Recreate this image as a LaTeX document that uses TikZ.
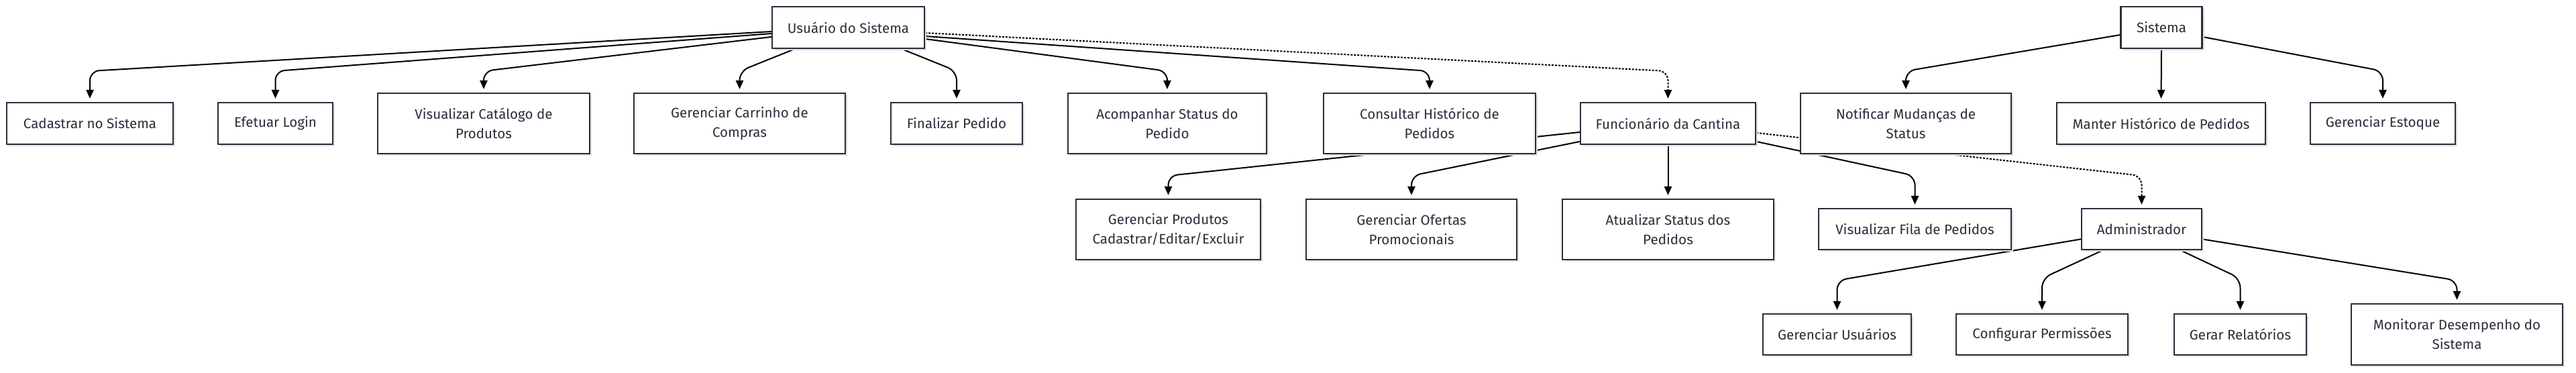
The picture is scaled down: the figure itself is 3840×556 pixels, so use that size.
\documentclass[tikz,border=0pt]{standalone}
\usepackage{fontspec}
\setmainfont{Fira Sans}
\usetikzlibrary{arrows.meta,calc,shadows}
\definecolor{boxline}{RGB}{44,44,62}
\definecolor{txt}{RGB}{45,45,60}
\pgfdeclarelayer{edges}
\pgfsetlayers{edges,main}
\tikzset{
  box/.style={draw=boxline, line width=1.1pt, fill=white, text=txt, align=center,
    inner sep=0pt, font=\fontsize{10.3}{14.5}\selectfont,
    drop shadow={shadow xshift=1.6pt, shadow yshift=-1.6pt, fill=black!13, opacity=1}},
  edge/.style={draw=black, line width=1pt, rounded corners=7pt,
    -{Triangle[length=6.5pt,width=5.6pt]}, shorten >=2.5pt},
  dotedge/.style={edge, dash pattern=on 1.5pt off 1pt}
}
\begin{document}
\begin{tikzpicture}[x=0.5pt,y=-0.5pt]
\useasboundingbox (0,0) rectangle (3840,556);
% top row
\node[box, minimum width=113.5pt, minimum height=31pt] (u) at (1264.5,41) {Usuário do Sistema};
\node[box, minimum width=60.5pt, minimum height=31pt] (sis) at (3222,41) {Sistema};
% second row
\node[box, minimum width=124pt, minimum height=31pt] (cad) at (134,184) {Cadastrar no Sistema};
\node[box, minimum width=85.5pt, minimum height=31pt] (log) at (410.5,184) {Efetuar Login};
\node[box, minimum width=158pt, minimum height=45pt] (cat) at (721,184) {Visualizar Catálogo de\\Produtos};
\node[box, minimum width=157.5pt, minimum height=45pt] (car) at (1102.5,184) {Gerenciar Carrinho de\\Compras};
\node[box, minimum width=98pt, minimum height=31pt] (fin) at (1426,184) {Finalizar Pedido};
\node[box, minimum width=148pt, minimum height=45pt] (aco) at (1740,184) {Acompanhar Status do\\Pedido};
\node[box, minimum width=158pt, minimum height=45pt] (con) at (2131,184) {Consultar Histórico de\\Pedidos};
\node[box, minimum width=130.5pt, minimum height=31pt] (fun) at (2486.5,184) {Funcionário da Cantina};
\node[box, minimum width=157pt, minimum height=45pt] (noti) at (2841,184) {Notificar Mudanças de\\Status};
\node[box, minimum width=155.5pt, minimum height=31pt] (man) at (3221.5,184) {Manter Histórico de Pedidos};
\node[box, minimum width=108pt, minimum height=31pt] (est) at (3552,184) {Gerenciar Estoque};
% third row
\node[box, minimum width=137.5pt, minimum height=45pt] (prod) at (1741.5,342) {Gerenciar Produtos\\Cadastrar/Editar/Excluir};
\node[box, minimum width=157pt, minimum height=45pt] (ofe) at (2104,342) {Gerenciar Ofertas\\Promocionais};
\node[box, minimum width=157.5pt, minimum height=45pt] (atu) at (2486.5,342) {Atualizar Status dos\\Pedidos};
\node[box, minimum width=143.5pt, minimum height=30.5pt] (fila) at (2854.5,341.5) {Visualizar Fila de Pedidos};
\node[box, minimum width=89.5pt, minimum height=30.5pt] (adm) at (3192.5,341.5) {Administrador};
% fourth row
\node[box, minimum width=110.5pt, minimum height=30.5pt] (usu) at (2738.5,498.5) {Gerenciar Usuários};
\node[box, minimum width=128pt, minimum height=30.5pt] (cfg) at (3044,498.5) {Configurar Permissões};
\node[box, minimum width=98.5pt, minimum height=30.5pt] (rel) at (3339.5,498.5) {Gerar Relatórios};
\node[box, minimum width=157.5pt, minimum height=45.5pt] (mon) at (3662.5,498.5) {Monitorar Desempenho do\\Sistema};

\begin{pgfonlayer}{edges}
% Usuário do Sistema
\draw[edge] ($(u.west)+(0,6)$) -- (cad.north |- 0,106) -- (cad.north);
\draw[edge] ($(u.west)+(0,9)$) -- (log.north |- 0,106) -- (log.north);
\draw[edge] ($(u.west)+(0,14)$) -- (cat.north |- 0,106) -- (cat.north);
\draw[edge] ($(u.south)+(-80,0)$) -- (car.north |- 0,106) -- (car.north);
\draw[edge] ($(u.south)+(80,0)$) -- (fin.north |- 0,106) -- (fin.north);
\draw[edge] ($(u.east)+(0,17)$) -- (aco.north |- 0,106) -- (aco.north);
\draw[edge] ($(u.east)+(0,13)$) -- (con.north |- 0,106) -- (con.north);
\draw[dotedge] ($(u.east)+(0,8)$) -- (fun.north |- 0,106) -- (fun.north);
% Sistema
\draw[edge] ($(sis.west)+(0,11)$) -- (noti.north |- 0,106) -- (noti.north);
\draw[edge] (sis.south) -- (man.north);
\draw[edge] ($(sis.east)+(0,14)$) -- (est.north |- 0,106) -- (est.north);
% Funcionário da Cantina
\draw[edge] ($(fun.west)+(0,13)$) -- (prod.north |- 0,262) -- (prod.north);
\draw[edge] ($(fun.west)+(0,27)$) -- (ofe.north |- 0,262) -- (ofe.north);
\draw[edge] (fun.south) -- (atu.north);
\draw[edge] ($(fun.east)+(0,27)$) -- (fila.north |- 0,262) -- (fila.north);
\draw[dotedge] ($(fun.east)+(0,14)$) -- (adm.north |- 0,262) -- (adm.north);
% Administrador
\draw[edge] ($(adm.west)+(0,15)$) -- (usu.north |- 0,418) -- (usu.north);
\draw[edge] ($(adm.south)+(-58,0)$) -- (cfg.north |- 0,415) -- (cfg.north);
\draw[edge] ($(adm.south)+(58,0)$) -- (rel.north |- 0,415) -- (rel.north);
\draw[edge] ($(adm.east)+(0,15)$) -- (mon.north |- 0,418) -- (mon.north);
\end{pgfonlayer}
\end{tikzpicture}
\end{document}
